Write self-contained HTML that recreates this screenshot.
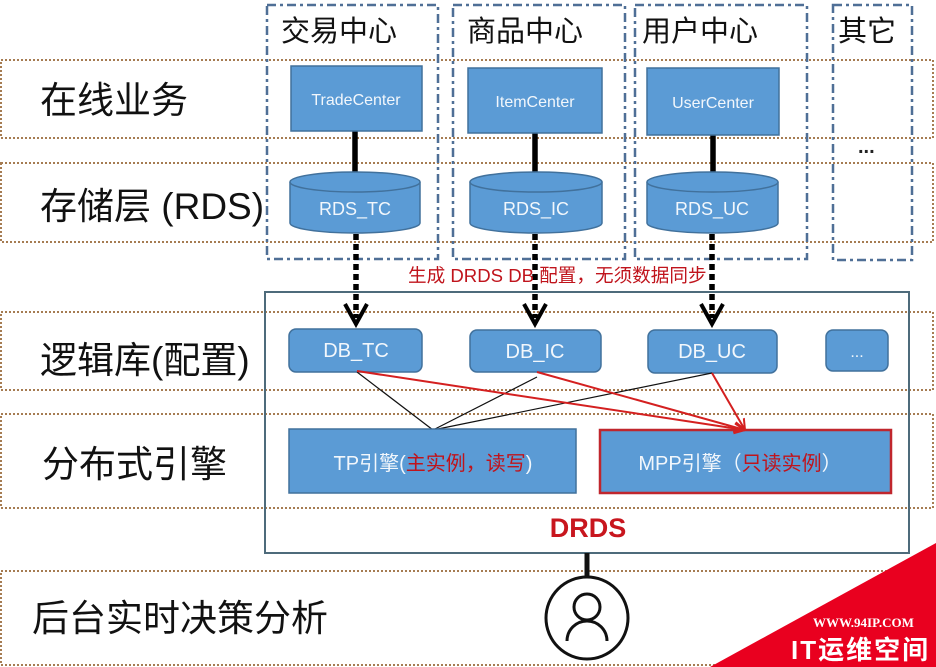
<!DOCTYPE html>
<html><head><meta charset="utf-8"><style>
html,body{margin:0;padding:0;background:#fff;}
svg{display:block;}
</style></head><body>
<svg width="936" height="667" viewBox="0 0 936 667" xmlns="http://www.w3.org/2000/svg" font-family="'Liberation Sans','Noto Sans CJK SC',sans-serif">
<defs>
<marker id="ra" viewBox="0 0 12 12" refX="11" refY="6" markerWidth="12" markerHeight="12" markerUnits="userSpaceOnUse" orient="auto">
<path d="M0,1 L11,6 L0,11" fill="none" stroke="#d42020" stroke-width="2"/>
</marker>
</defs>
<rect width="936" height="667" fill="#fff"/>

<!-- dotted bands -->
<g fill="none" stroke="#a67c52" stroke-width="2" stroke-dasharray="2 2">
<rect x="1" y="60" width="932" height="78"/>
<rect x="1" y="163" width="932" height="79"/>
<rect x="1" y="312" width="932" height="78"/>
<rect x="1" y="414" width="932" height="94"/>
<rect x="1" y="571" width="932" height="94"/>
</g>

<!-- dash-dot columns -->
<g fill="none" stroke="#4f6f96" stroke-width="2.5" stroke-dasharray="9 4 3 4">
<rect x="267" y="5" width="171" height="254"/>
<rect x="453" y="5" width="172" height="254"/>
<rect x="635" y="5" width="172" height="254"/>
<rect x="833" y="5" width="79" height="255"/>
</g>

<!-- column titles -->
<g font-size="29" fill="#111">
<text x="281" y="41">交易中心</text>
<text x="467" y="41">商品中心</text>
<text x="642" y="41">用户中心</text>
<text x="838" y="41">其它</text>
</g>
<text x="858" y="153" font-size="20" font-weight="bold" fill="#222">...</text>

<!-- left labels -->
<g font-size="37" fill="#111">
<text x="40" y="113">在线业务</text>
<text x="40" y="219">存储层 (RDS)</text>
<text x="40" y="373">逻辑库(配置)</text>
<text x="42" y="477">分布式引擎</text>
<text x="32" y="631">后台实时决策分析</text>
</g>

<!-- thick connectors -->
<g stroke="#000" stroke-width="5.5">
<line x1="355" y1="131" x2="355" y2="174"/>
<line x1="535" y1="133" x2="535" y2="174"/>
<line x1="713" y1="135" x2="713" y2="174"/>
</g>

<!-- online boxes -->
<g fill="#5b9bd5" stroke="#41719c" stroke-width="1.5">
<rect x="291" y="66" width="131" height="65"/>
<rect x="468" y="68" width="134" height="65"/>
<rect x="647" y="68" width="132" height="67"/>
</g>
<g font-size="16" fill="#f2f7fc" text-anchor="middle">
<text x="356" y="105">TradeCenter</text>
<text x="535" y="107">ItemCenter</text>
<text x="713" y="108">UserCenter</text>
</g>

<!-- cylinders -->
<g fill="#5b9bd5" stroke="#41719c" stroke-width="1.5">
<path d="M290,182 L290,223 A65,10 0 0 0 420,223 L420,182"/>
<ellipse cx="355" cy="182" rx="65" ry="10"/>
<path d="M470,182 L470,223 A66,10 0 0 0 602,223 L602,182"/>
<ellipse cx="536" cy="182" rx="66" ry="10"/>
<path d="M647,182 L647,223 A65.5,10 0 0 0 778,223 L778,182"/>
<ellipse cx="712.5" cy="182" rx="65.5" ry="10"/>
</g>
<g font-size="18" fill="#f2f7fc" text-anchor="middle">
<text x="355" y="215">RDS_TC</text>
<text x="536" y="215">RDS_IC</text>
<text x="712" y="215">RDS_UC</text>
</g>

<!-- DRDS container -->
<rect x="265" y="292" width="644" height="261" fill="none" stroke="#4e6b7b" stroke-width="2"/>

<!-- dashed arrows -->
<g stroke="#000" stroke-width="5.5" stroke-dasharray="6 4" fill="none">
<line x1="356" y1="234" x2="356" y2="318"/>
<line x1="535" y1="234" x2="535" y2="318"/>
<line x1="712" y1="234" x2="712" y2="318"/>
</g>
<g stroke="#000" stroke-width="4" fill="none" stroke-linejoin="miter">
<polyline points="345,304 356,324 367,304"/>
<polyline points="524,304 535,324 546,304"/>
<polyline points="701,304 712,324 723,304"/>
</g>

<!-- red label -->
<text x="408" y="282" font-size="18.6" fill="#c0141c">生成 DRDS DB 配置，无须数据同步</text>

<!-- DB boxes -->
<g fill="#5b9bd5" stroke="#41719c" stroke-width="1.5">
<rect x="289" y="329" width="133" height="43" rx="7"/>
<rect x="470" y="330" width="131" height="42" rx="7"/>
<rect x="648" y="330" width="129" height="43" rx="7"/>
<rect x="826" y="330" width="62" height="41" rx="7"/>
</g>
<g font-size="20" fill="#f2f7fc" text-anchor="middle">
<text x="356" y="357">DB_TC</text>
<text x="535" y="358">DB_IC</text>
<text x="712" y="358">DB_UC</text>
<text x="857" y="357" font-size="16">...</text>
</g>

<!-- black thin lines -->
<g stroke="#111" stroke-width="1.2">
<line x1="357" y1="372" x2="433" y2="430"/>
<line x1="537" y1="377" x2="433" y2="430"/>
<line x1="712" y1="373" x2="433" y2="430"/>
</g>

<!-- engine boxes -->
<rect x="289" y="429" width="287" height="64" fill="#5b9bd5" stroke="#41719c" stroke-width="1.5"/>
<rect x="600" y="430" width="291" height="63" fill="#5b9bd5" stroke="#c0262d" stroke-width="2.5"/>
<text x="433" y="470" font-size="20" text-anchor="middle"><tspan fill="#f2f7fc">TP引擎(</tspan><tspan fill="#c0141c">主实例，读写</tspan><tspan fill="#f2f7fc">)</tspan></text>
<text x="740" y="470" font-size="20" text-anchor="middle"><tspan fill="#f2f7fc">MPP引擎（</tspan><tspan fill="#c0141c">只读实例</tspan><tspan fill="#f2f7fc">）</tspan></text>

<!-- red arrows -->
<g stroke="#d42020" stroke-width="2" fill="none" marker-end="url(#ra)">
<line x1="357" y1="371" x2="745" y2="430"/>
<line x1="537" y1="372" x2="745" y2="430"/>
<line x1="712" y1="373" x2="745" y2="430"/>
</g>

<!-- DRDS label -->
<text x="588" y="537" font-size="27" font-weight="bold" fill="#c8161e" text-anchor="middle">DRDS</text>

<!-- person -->
<line x1="587" y1="553" x2="587" y2="577" stroke="#111" stroke-width="5"/>
<circle cx="587" cy="618" r="41" fill="#fff" stroke="#111" stroke-width="3"/>
<circle cx="587" cy="607" r="13" fill="none" stroke="#111" stroke-width="3"/>
<path d="M567,641 A20,20 0 0 1 607,641" fill="none" stroke="#111" stroke-width="3"/>

<!-- watermark -->
<polygon points="710,667 936,543 936,667" fill="#e9001f"/>
<text x="813" y="627" font-family="'Liberation Serif',serif" font-weight="bold" font-size="13" fill="#fff">WWW.94IP.COM</text>
<text x="791" y="659" font-size="26" font-weight="bold" fill="#fff" letter-spacing="2">IT运维空间</text>
</svg>
</body></html>
